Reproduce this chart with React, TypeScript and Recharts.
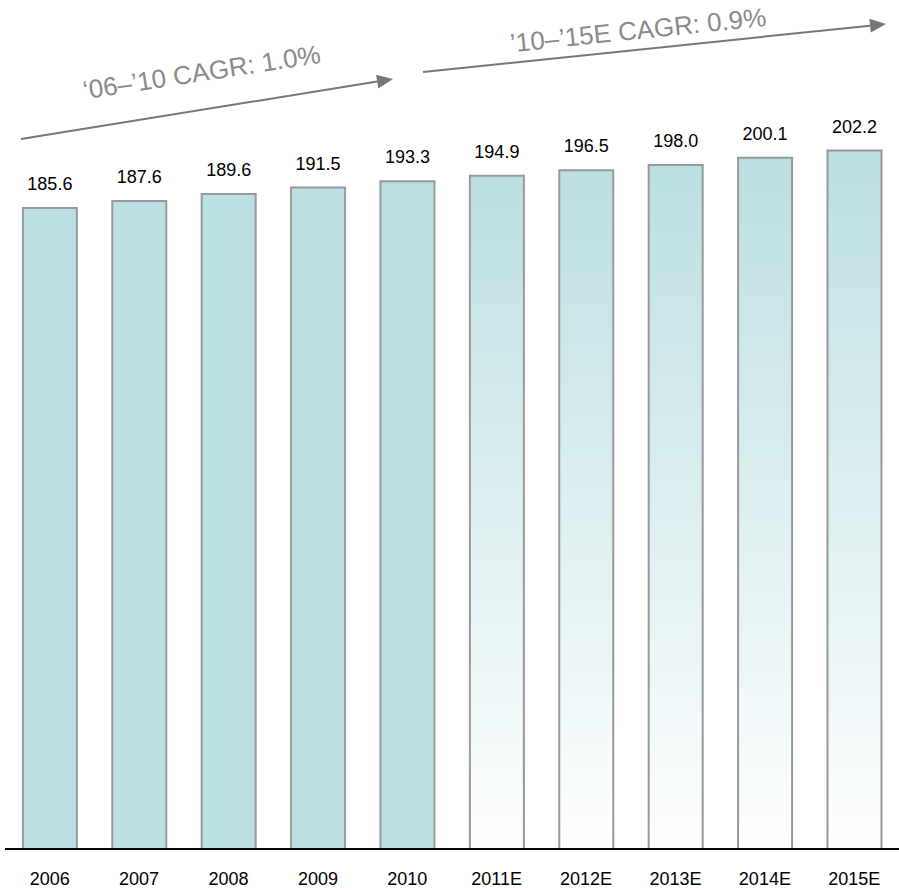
import React from 'react';
import { BarChart, Bar, XAxis, YAxis, Cell, LabelList, Customized } from 'recharts';

const years = ['2006', '2007', '2008', '2009', '2010', '2011E', '2012E', '2013E', '2014E', '2015E'];
const values = [185.6, 187.6, 189.6, 191.5, 193.3, 194.9, 196.5, 198.0, 200.1, 202.2];
const cagrLabels = ['\u201806\u2013\u201910 CAGR: 1.0%', '\u201910\u2013\u201915E CAGR: 0.9%'];

const data = years.map((year, i) => ({ year, value: values[i] }));

const FONT = 'Arial, "Liberation Sans", Helvetica, sans-serif';
const TEAL = '#BBDFE2';

function Arrow({ x1, y1, x2, y2 }: { x1: number; y1: number; x2: number; y2: number }) {
  const dx = x2 - x1;
  const dy = y2 - y1;
  const len = Math.sqrt(dx * dx + dy * dy);
  const ux = dx / len;
  const uy = dy / len;
  const headLen = 16;
  const headHalf = 7;
  const bx = x2 - ux * headLen;
  const by = y2 - uy * headLen;
  const px = -uy;
  const py = ux;
  const pts = `${x2},${y2} ${bx + px * headHalf},${by + py * headHalf} ${bx - px * headHalf},${by - py * headHalf}`;
  return (
    <g>
      <line x1={x1} y1={y1} x2={bx} y2={by} stroke="#777" strokeWidth={2} />
      <polygon points={pts} fill="#777" />
    </g>
  );
}

function Annotations() {
  return (
    <g>
      <Arrow x1={21} y1={139} x2={393} y2={79} />
      <Arrow x1={423} y1={72} x2={886} y2={24} />
      <text
        x={203}
        y={81}
        textAnchor="middle"
        fontSize={26}
        fill="#8a8a8a"
        fontFamily={FONT}
        transform="rotate(-8.8 203 81)"
      >
        {cagrLabels[0]}
      </text>
      <text
        x={639}
        y={39}
        textAnchor="middle"
        fontSize={26}
        fill="#8a8a8a"
        fontFamily={FONT}
        transform="rotate(-5.9 639 39)"
      >
        {cagrLabels[1]}
      </text>
    </g>
  );
}

export default function App() {
  return (
    <div style={{ position: 'absolute', left: 0, top: 0, width: 899, height: 890, background: '#fff' }}>
      <BarChart
        width={899}
        height={890}
        data={data}
        margin={{ top: 20, right: 0, bottom: 0, left: 5 }}
        barCategoryGap="20%"
      >
        <defs>
          <linearGradient id="estGrad" x1="0" y1="0" x2="0" y2="1">
            <stop offset="0%" stopColor={TEAL} />
            <stop offset="100%" stopColor="#FFFFFF" />
          </linearGradient>
        </defs>
        <XAxis
          dataKey="year"
          height={41}
          tickLine={false}
          tickSize={0}
          tickMargin={23}
          axisLine={{ stroke: '#000', strokeWidth: 2 }}
          tick={{ fill: '#000', fontSize: 18, fontFamily: FONT }}
          interval={0}
        />
        <YAxis hide domain={[0, 240]} />
        <Bar dataKey="value" stroke="#999" strokeWidth={2} isAnimationActive={false}>
          {data.map((d) => (
            <Cell key={d.year} fill={d.year.endsWith('E') ? 'url(#estGrad)' : TEAL} />
          ))}
          <LabelList
            dataKey="value"
            position="top"
            offset={18}
            formatter={(v: any) => Number(v).toFixed(1)}
            style={{ fill: '#000', fontSize: 18, fontFamily: FONT }}
          />
        </Bar>
        <Customized component={Annotations} />
      </BarChart>
    </div>
  );
}
